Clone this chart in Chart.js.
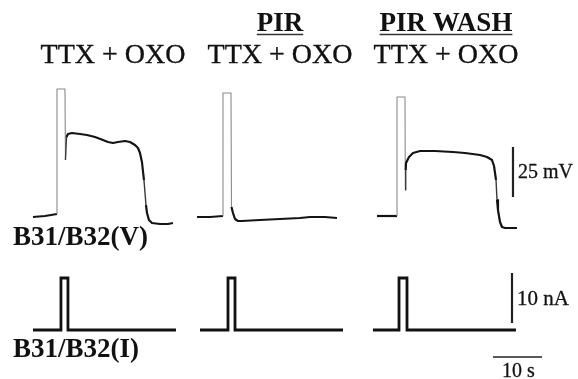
<!DOCTYPE html>
<html>
<head>
<meta charset="utf-8">
<script src="https://cdn.jsdelivr.net/npm/chart.js@4.4.1/dist/chart.umd.min.js"></script>
<style>
html,body{margin:0;padding:0;background:#fff;}
#wrap{width:578px;height:379px;position:relative;}
</style>
</head>
<body>
<div id="wrap"><canvas id="c" width="578" height="379"></canvas></div>
<script>
// ---- Data (time in s from trace start, voltage in mV, current in nA) ----
const panelTitles = ["TTX + OXO", "TTX + OXO", "TTX + OXO"];
const panelConditions = ["", "PIR", "PIR WASH"];

// Panel start times on the shared figure time axis (s)
const vOffsets = [6.73, 40.20, 76.94];
const iOffsets = [6.73, 40.82, 76.12];

// Control: TTX + OXO
const v1Time = [0, 2.45, 4.90, 4.90, 6.53, 6.63, 6.84, 7.14, 7.96, 9.59, 11.02, 12.65, 14.29, 15.31, 16.33, 17.35, 18.78, 19.80, 20.82, 21.43, 21.84, 22.24, 22.65, 23.06, 23.27, 23.67, 24.29, 25.92, 27.55, 28.57];
const v1Volt = [-60, -59.5, -58.5, 4, 4, -31.5, -20, -18.5, -18, -18.5, -19, -20, -21.5, -22.5, -23, -22.5, -22, -22.5, -24, -25.5, -28, -32.5, -41.5, -54, -58, -61.5, -63, -63.5, -63.5, -63];

// PIR: TTX + OXO
const v2Time = [0, 2.65, 5.31, 5.31, 6.94, 7.04, 7.35, 7.76, 8.37, 9.18, 12.86, 16.94, 21.02, 23.06, 26.12, 28.57];
const v2Volt = [-60, -60, -59.5, 2, 2, -55, -58, -61, -62, -62, -61.5, -61, -60.5, -60, -60, -60.5];

// PIR WASH: TTX + OXO
const v3Time = [0, 4.08, 4.08, 5.71, 5.78, 5.86, 5.92, 6.53, 7.35, 8.78, 11.84, 15.51, 17.96, 21.02, 22.45, 23.47, 23.88, 24.29, 24.49, 24.69, 25.10, 25.51, 26.12, 28.57];
const v3Volt = [-59.5, -59.5, 0, 0, -46.5, -36.5, -33, -30, -28, -27, -27, -27.5, -28, -29, -30, -31.5, -34.5, -41.5, -51.5, -56.5, -62.5, -65, -65.5, -65.5];

// Injected current pulses
const i1Time = [0, 5.71, 5.71, 7.14, 7.14, 29.18];
const i1Curr = [0, 0, 10.4, 10.4, 0, 0];
const i2Time = [0, 5.71, 5.71, 7.14, 7.14, 29.18];
const i2Curr = [0, 0, 10.4, 10.4, 0, 0];
const i3Time = [0, 5.31, 5.31, 6.94, 6.94, 29.18];
const i3Curr = [0, 0, 10.4, 10.4, 0, 0];

// Scale bars
const voltBar = { t: 104.69, from: -50, size: 25, label: "25 mV" };
const currBar = { t: 104.49, from: 1.4, size: 10, label: "10 nA" };
const timeBar = { t: 100.61, level: -5.4, size: 10, label: "10 s" };

const rowLabels = ["B31/B32(V)", "B31/B32(I)"];
const spikeThreshold = -10; // mV: samples above this belong to the fast spike

// ---- Build datasets ----
function pts(off, t, y) { return t.map((ti, k) => ({ x: off + ti, y: y[k] })); }
function steep(ctx) {
  const dx = Math.abs(ctx.p1.x - ctx.p0.x), dy = Math.abs(ctx.p1.y - ctx.p0.y);
  return dy > 18 && dy > 4 * dx;
}
function spike(ctx) {
  return ctx.p0.parsed.y > spikeThreshold || ctx.p1.parsed.y > spikeThreshold;
}
const vSets = [[v1Time, v1Volt], [v2Time, v2Volt], [v3Time, v3Volt]].map((d, k) => ({
  data: pts(vOffsets[k], d[0], d[1]),
  yAxisID: 'yV',
  borderColor: '#141414',
  borderWidth: 2.2,
  pointRadius: 0,
  showLine: true,
  tension: 0,
  borderJoinStyle: 'round',
  segment: {
    borderWidth: c => spike(c) ? 1.1 : (steep(c) ? 1.4 : 2.2),
    borderColor: c => spike(c) ? '#8a8a8a' : (steep(c) ? '#3a3a3a' : '#141414')
  }
}));
const iSets = [[i1Time, i1Curr], [i2Time, i2Curr], [i3Time, i3Curr]].map((d, k) => ({
  data: pts(iOffsets[k], d[0], d[1]),
  yAxisID: 'yI',
  borderColor: '#111',
  borderWidth: 2.8,
  pointRadius: 0,
  showLine: true,
  tension: 0,
  borderJoinStyle: 'miter'
}));
const barSets = [
  { data: [{ x: voltBar.t, y: voltBar.from }, { x: voltBar.t, y: voltBar.from + voltBar.size }], yAxisID: 'yV', borderWidth: 2.2 },
  { data: [{ x: currBar.t, y: currBar.from }, { x: currBar.t, y: currBar.from + currBar.size }], yAxisID: 'yI', borderWidth: 2.2 },
  { data: [{ x: timeBar.t, y: timeBar.level }, { x: timeBar.t + timeBar.size, y: timeBar.level }], yAxisID: 'yI', borderWidth: 1.6 }
].map(s => Object.assign(s, { borderColor: '#222', pointRadius: 0, showLine: true }));

// ---- Text plugin ----
function heavyText(ctx, t, x, y, w) {
  ctx.fillText(t, x, y);
  ctx.lineWidth = w;
  ctx.strokeStyle = '#111';
  ctx.strokeText(t, x, y);
}
const textPlugin = {
  id: 'figText',
  afterDraw(chart) {
    const ctx = chart.ctx, xs = chart.scales.x, yV = chart.scales.yV, yI = chart.scales.yI;
    ctx.save();
    ctx.fillStyle = '#111';
    ctx.textBaseline = 'alphabetic';
    ctx.lineJoin = 'round';
    const centers = [113, 280, 446];
    ctx.textAlign = 'center';
    ctx.font = '28px "Liberation Serif", serif';
    panelTitles.forEach((t, k) => heavyText(ctx, t, centers[k], 63, 0.35));
    ctx.font = 'bold 27px "Liberation Serif", serif';
    panelConditions.forEach((t, k) => {
      if (!t) return;
      ctx.fillText(t, centers[k], 31);
      const w = ctx.measureText(t).width;
      ctx.strokeStyle = '#333';
      ctx.lineWidth = 1.6;
      ctx.beginPath();
      ctx.moveTo(centers[k] - w / 2, 34.5);
      ctx.lineTo(centers[k] + w / 2, 34.5);
      ctx.stroke();
    });
    ctx.textAlign = 'left';
    ctx.font = 'bold 27px "Liberation Serif", serif';
    ctx.fillText(rowLabels[0], 13, 245);
    ctx.fillText(rowLabels[1], 13, 357);
    ctx.font = '20px "Liberation Serif", serif';
    const vx = xs.getPixelForValue(voltBar.t);
    heavyText(ctx, voltBar.label, vx + 5, yV.getPixelForValue(voltBar.from + voltBar.size / 2) + 6, 0.3);
    ctx.font = '21px "Liberation Serif", serif';
    const ix = xs.getPixelForValue(currBar.t);
    heavyText(ctx, currBar.label, ix + 5, yI.getPixelForValue(currBar.from + currBar.size / 2) + 7, 0.3);
    ctx.font = '20px "Liberation Serif", serif';
    ctx.textAlign = 'center';
    const tx = xs.getPixelForValue(timeBar.t + timeBar.size / 2) + 1;
    heavyText(ctx, timeBar.label, tx, yI.getPixelForValue(timeBar.level) + 20, 0.3);
    ctx.restore();
  }
};

new Chart(document.getElementById('c'), {
  type: 'scatter',
  data: { datasets: [...vSets, ...iSets, ...barSets] },
  options: {
    responsive: false,
    animation: false,
    devicePixelRatio: 1,
    layout: { padding: 0 },
    plugins: { legend: { display: false }, tooltip: { enabled: false }, title: { display: false } },
    scales: {
      x: { type: 'linear', display: false, min: 0, max: 578 / 4.9 },
      yV: { type: 'linear', display: false, min: -141, max: 48.5 },
      yI: { type: 'linear', display: false, min: -9.8, max: 66 }
    }
  },
  plugins: [textPlugin]
});
</script>
</body>
</html>
